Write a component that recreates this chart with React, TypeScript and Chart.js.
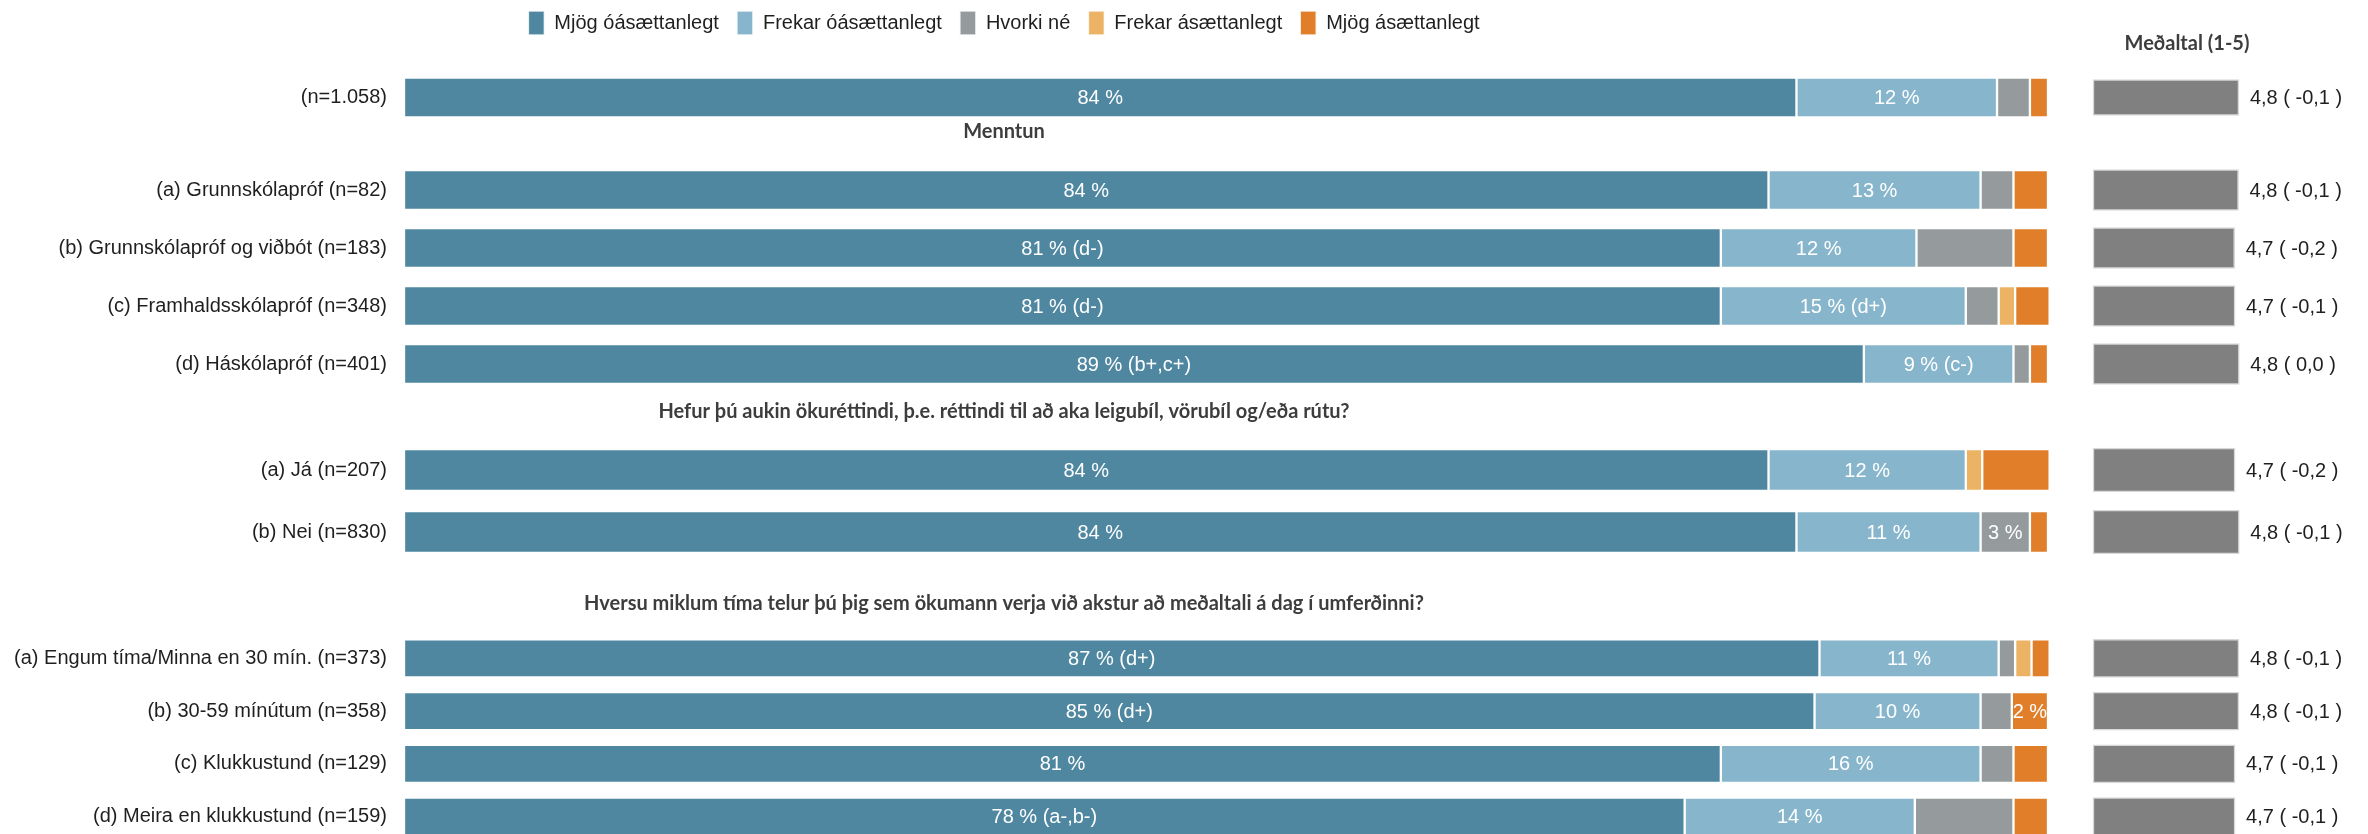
import React, { useEffect, useRef } from "react";
import { Chart, registerables } from "chart.js";

Chart.register(...registerables);

// ---------- data ----------
const SERIES_NAMES = ["Mjög óásættanlegt", "Frekar óásættanlegt", "Hvorki né", "Frekar ásættanlegt", "Mjög ásættanlegt"];
const SERIES_COLORS = ["#4f87a1", "#87b6cc", "#959b9d", "#edb365", "#e07e29"];
const MEAN_COLOR = "#808080";

const MEAN_TITLE = "Meðaltal (1-5)";
const HEADER_EDU = "Menntun";
const HEADER_LIC = "Hefur þú aukin ökuréttindi, þ.e. réttindi til að aka leigubíl, vörubíl og/eða rútu?";
const HEADER_TIME = "Hversu miklum tíma telur þú þig sem ökumann verja við akstur að meðaltali á dag í umferðinni?";

// Heild
const TOTAL_ROWS = ["(n=1.058)"];
const TOTAL_VALUES = [[84.7], [12.2], [2.0], [0], [1.1]];
const TOTAL_LABELS = [["84 %"], ["12 %"], [""], [""], [""]];
const TOTAL_MEANS = [4.79];
const TOTAL_MEAN_LABELS = ["4,8 ( -0,1 )"];

// Menntun
const EDU_ROWS = [
  "(a) Grunnskólapróf (n=82)",
  "(b) Grunnskólapróf og viðbót (n=183)",
  "(c) Framhaldsskólapróf (n=348)",
  "(d) Háskólapróf (n=401)",
];
const EDU_VALUES = [
  [83.0, 80.1, 80.1, 88.8],
  [12.9, 11.9, 14.9, 9.1],
  [2.0, 5.9, 2.0, 1.0],
  [0, 0, 1.0, 0],
  [2.1, 2.1, 2.1, 1.1],
];
const EDU_LABELS = [
  ["84 %", "81 % (d-)", "81 % (d-)", "89 % (b+,c+)"],
  ["13 %", "12 %", "15 % (d+)", "9 % (c-)"],
  ["", "", "", ""],
  ["", "", "", ""],
  ["", "", "", ""],
];
const EDU_MEANS = [4.78, 4.68, 4.69, 4.8];
const EDU_MEAN_LABELS = ["4,8 ( -0,1 )", "4,7 ( -0,2 )", "4,7 ( -0,1 )", "4,8 ( 0,0 )"];

// Aukin ökuréttindi
const LIC_ROWS = ["(a) Já (n=207)", "(b) Nei (n=830)"];
const LIC_VALUES = [
  [83.0, 84.7],
  [12.0, 11.2],
  [0, 3.0],
  [1.0, 0],
  [4.1, 1.1],
];
const LIC_LABELS = [
  ["84 %", "84 %"],
  ["12 %", "11 %"],
  ["", "3 %"],
  ["", ""],
  ["", ""],
];
const LIC_MEANS = [4.69, 4.8];
const LIC_MEAN_LABELS = ["4,7 ( -0,2 )", "4,8 ( -0,1 )"];

// Tími í umferðinni
const TIME_ROWS = [
  "(a) Engum tíma/Minna en 30 mín. (n=373)",
  "(b) 30-59 mínútum (n=358)",
  "(c) Klukkustund (n=129)",
  "(d) Meira en klukkustund (n=159)",
];
const TIME_VALUES = [
  [86.1, 85.8, 80.1, 77.9],
  [10.9, 10.1, 15.8, 14.0],
  [1.0, 1.9, 2.0, 6.0],
  [1.0, 0, 0, 0],
  [1.1, 2.2, 2.1, 2.1],
];
const TIME_LABELS = [
  ["87 % (d+)", "85 % (d+)", "81 %", "78 % (a-,b-)"],
  ["11 %", "10 %", "16 %", "14 %"],
  ["", "", "", ""],
  ["", "", "", ""],
  ["", "2 %", "", ""],
];
const TIME_MEANS = [4.79, 4.79, 4.69, 4.69];
const TIME_MEAN_LABELS = ["4,8 ( -0,1 )", "4,8 ( -0,1 )", "4,7 ( -0,1 )", "4,7 ( -0,1 )"];

// ---------- layout ----------
const CANVAS_W = 2368;
const AREA_LEFT = 404;
const MAIN_RIGHT = 2048;
const MEAN_LEFT = 2093;
const MEAN_RIGHT = 2247;
const MEAN_MIN = 1;
const MEAN_MAX = 5;
const CENTER_X = 1004;
const X_MAX = (100 * (MEAN_RIGHT - AREA_LEFT)) / (MAIN_RIGHT - AREA_LEFT);
const XM_MIN = MEAN_MIN - ((MEAN_LEFT - AREA_LEFT) * (MEAN_MAX - MEAN_MIN)) / (MEAN_RIGHT - MEAN_LEFT);

const SANS = "'Liberation Sans', Arial, sans-serif";
const HEAD = "Lato, 'Open Sans', sans-serif";
const TEXT_COLOR = "#1f1f1f";
const HEAD_COLOR = "#3d3d3d";

type Section = {
  rows: string[];
  values: number[][];
  labels: string[][];
  means: number[];
  meanLabels: string[];
  title: string;
  legend: boolean;
  height: number;
  titlePad: { top: number; bottom: number };
  titleCx: number;
  titleTop?: number;
  bar: number;
  meanBar: number;
};

const SECTIONS: Section[] = [
  {
    rows: TOTAL_ROWS, values: TOTAL_VALUES, labels: TOTAL_LABELS, means: TOTAL_MEANS, meanLabels: TOTAL_MEAN_LABELS,
    title: MEAN_TITLE, legend: true, height: 121, titlePad: { top: 0, bottom: 0 }, titleCx: 2187, titleTop: 33,
    bar: 40, meanBar: 36,
  },
  {
    rows: EDU_ROWS, values: EDU_VALUES, labels: EDU_LABELS, means: EDU_MEANS, meanLabels: EDU_MEAN_LABELS,
    title: HEADER_EDU, legend: false, height: 272, titlePad: { top: 0, bottom: 18 }, titleCx: CENTER_X,
    bar: 40, meanBar: 41,
  },
  {
    rows: LIC_ROWS, values: LIC_VALUES, labels: LIC_LABELS, means: LIC_MEANS, meanLabels: LIC_MEAN_LABELS,
    title: HEADER_LIC, legend: false, height: 170, titlePad: { top: 8, bottom: 16 }, titleCx: CENTER_X,
    bar: 42, meanBar: 44,
  },
  {
    rows: TIME_ROWS, values: TIME_VALUES, labels: TIME_LABELS, means: TIME_MEANS, meanLabels: TIME_MEAN_LABELS,
    title: HEADER_TIME, legend: false, height: 280, titlePad: { top: 30, bottom: 17 }, titleCx: CENTER_X,
    bar: 38, meanBar: 38,
  },
];

// ---------- plugins ----------
const boxPlacer = {
  id: "boxPlacer",
  afterLayout(chart: any, _args: any, opts: any) {
    const place = (box: any, cx: number | undefined, top: number | undefined) => {
      if (!box || cx == null) return;
      const w = box.right - box.left;
      box.left = cx - w / 2;
      box.right = cx + w / 2;
      if (top != null) {
        const h = box.bottom - box.top;
        box.top = top;
        box.bottom = top + h;
      }
    };
    if (opts.legendCx != null) place(chart.legend, opts.legendCx, opts.legendTop);
    if (opts.titleCx != null) place(chart.titleBlock, opts.titleCx, opts.titleTop);
  },
};

const valueLabels = {
  id: "valueLabels",
  afterDatasetsDraw(chart: any) {
    const ctx = chart.ctx;
    ctx.save();
    ctx.font = `20px ${SANS}`;
    ctx.textBaseline = "middle";
    chart.data.datasets.forEach((ds: any, di: number) => {
      const meta = chart.getDatasetMeta(di);
      meta.data.forEach((el: any, i: number) => {
        const p = el.getProps(["x", "y", "base"], true);
        if (ds.barLabels && ds.barLabels[i]) {
          ctx.fillStyle = "#ffffff";
          ctx.textAlign = "center";
          ctx.fillText(ds.barLabels[i], (p.x + p.base) / 2, p.y + 1);
        }
        if (ds.meanLabels && ds.meanLabels[i]) {
          ctx.fillStyle = TEXT_COLOR;
          ctx.textAlign = "left";
          ctx.fillText(ds.meanLabels[i], p.x + 11, p.y + 1);
        }
      });
    });
    ctx.restore();
  },
};

function buildConfig(s: Section): any {
  const datasets: any[] = SERIES_NAMES.map((name, i) => ({
    label: name,
    data: s.values[i],
    barLabels: s.labels[i],
    xAxisID: "x",
    yAxisID: "y",
    stack: "main",
    backgroundColor: SERIES_COLORS[i],
    borderColor: "rgba(255,255,255,0.8)",
    borderWidth: 1.5,
    borderSkipped: false,
    barThickness: s.bar,
  }));
  datasets.push({
    label: MEAN_TITLE,
    data: s.means,
    meanLabels: s.meanLabels,
    xAxisID: "xm",
    yAxisID: "y",
    stack: "mean",
    grouped: false,
    base: MEAN_MIN,
    backgroundColor: MEAN_COLOR,
    borderColor: "#d8d8d8",
    borderWidth: 1.5,
    borderSkipped: false,
    barThickness: s.meanBar,
  });

  return {
    type: "bar",
    data: { labels: s.rows, datasets },
    plugins: [boxPlacer, valueLabels],
    options: {
      indexAxis: "y",
      responsive: false,
      animation: false,
      events: [],
      layout: { padding: { left: 0, right: CANVAS_W - MEAN_RIGHT, top: 0, bottom: 0 } },
      scales: {
        x: { type: "linear", display: false, stacked: true, min: 0, max: X_MAX },
        xm: { type: "linear", display: false, min: XM_MIN, max: MEAN_MAX },
        y: {
          type: "category",
          position: "left",
          grid: { display: false, drawTicks: false },
          border: { display: false },
          ticks: { autoSkip: false, padding: 17, color: TEXT_COLOR, font: { family: SANS, size: 20 } },
          afterFit: (scale: any) => {
            scale.width = AREA_LEFT;
            scale.paddingTop = 0;
            scale.paddingBottom = 0;
          },
        },
      },
      plugins: {
        tooltip: { enabled: false },
        legend: {
          display: s.legend,
          position: "top",
          labels: {
            boxWidth: 16,
            boxHeight: 24,
            padding: 18,
            color: TEXT_COLOR,
            font: { family: SANS, size: 20 },
            filter: (item: any) => item.datasetIndex < SERIES_NAMES.length,
          },
        },
        title: {
          display: true,
          text: s.title,
          color: HEAD_COLOR,
          font: { family: HEAD, size: 20, weight: "bold", lineHeight: "22px" },
          padding: s.titlePad,
        },
        boxPlacer: {
          legendCx: s.legend ? CENTER_X : undefined,
          legendTop: s.legend ? 11 - 18 : undefined,
          titleCx: s.titleCx,
          titleTop: s.titleTop,
        },
      },
    },
  };
}

function SectionChart({ section }: { section: Section }) {
  const ref = useRef<HTMLCanvasElement>(null);
  useEffect(() => {
    const chart = new Chart(ref.current as HTMLCanvasElement, buildConfig(section));
    return () => chart.destroy();
  }, [section]);
  return (
    <canvas
      ref={ref}
      width={CANVAS_W}
      height={section.height}
      style={{ display: "block", width: CANVAS_W, height: section.height }}
    />
  );
}

export default function App() {
  return (
    <div
      style={{
        position: "absolute",
        left: 0,
        top: 0,
        width: CANVAS_W,
        height: 834,
        overflow: "hidden",
        background: "#ffffff",
      }}
    >
      {SECTIONS.map((s, i) => (
        <SectionChart key={i} section={s} />
      ))}
    </div>
  );
}
